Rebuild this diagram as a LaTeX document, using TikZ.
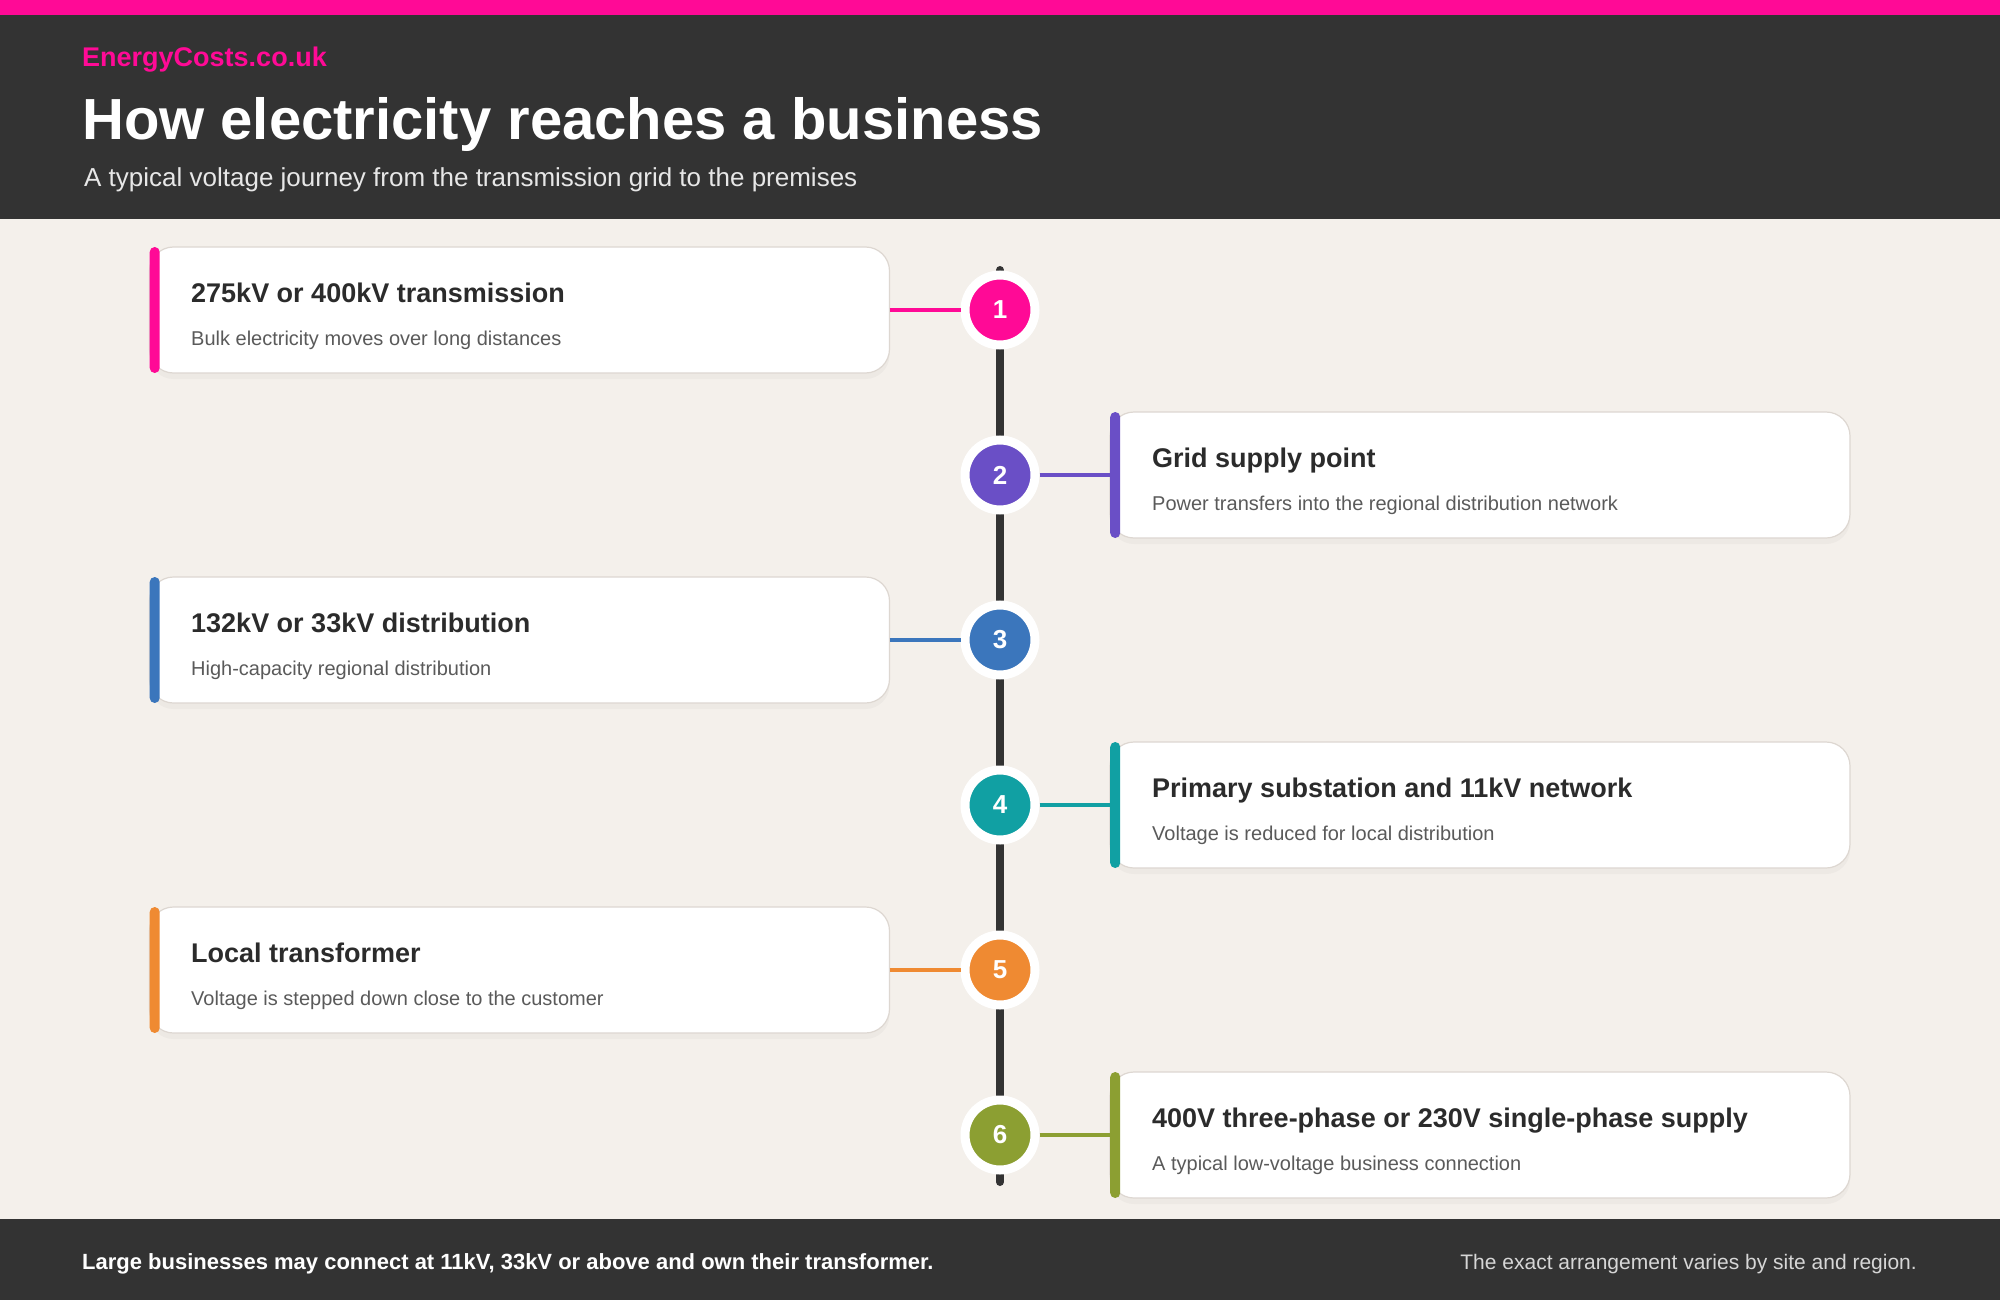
\documentclass[tikz,border=0pt]{standalone}
\usepackage{fontspec}
\setmainfont{Liberation Sans}
\usetikzlibrary{shadows}
\definecolor{pinkc}{HTML}{FF0A96}
\definecolor{purplec}{HTML}{6A4FC6}
\definecolor{bluec}{HTML}{3B76BC}
\definecolor{tealc}{HTML}{11A0A3}
\definecolor{orangec}{HTML}{EF8A32}
\definecolor{olivec}{HTML}{8C9F32}
\definecolor{darkc}{HTML}{333333}
\definecolor{bgc}{HTML}{F4F0EB}
\definecolor{cardline}{HTML}{DDD7D1}
\definecolor{titlec}{HTML}{2B2B2B}
\definecolor{descc}{HTML}{5A5A5A}
\begin{document}
\begin{tikzpicture}
			[x=1pt,y=-1pt,
			card/.style={rectangle,rounded corners=24pt,fill=white,draw=cardline,line width=1.2pt,minimum width=740pt,minimum height=126pt,inner sep=0pt,outer sep=0pt,drop shadow={opacity=0.06,shadow xshift=0pt,shadow yshift=-6pt}},
			accent/.style={rectangle,rounded corners=5pt,minimum width=10pt,minimum height=126pt,inner sep=0pt,anchor=west},
			stepdot/.style={circle,draw=white,line width=9pt,minimum size=70pt,inner sep=0pt,text=white,font=\fontsize{26}{26}\selectfont\bfseries},
			ttl/.style={anchor=base west,inner sep=0pt,text=titlec,font=\fontsize{27}{27}\selectfont\bfseries},
			desc/.style={anchor=base west,inner sep=0pt,text=descc,font=\fontsize{20}{20}\selectfont},
			link/.style={line width=4pt},
			spine/.style={line width=8pt,darkc,line cap=round}]
			\useasboundingbox (0,0) rectangle (2000,1300);
			\fill[bgc](0,0) rectangle (2000,1300);
			\fill[darkc](0,0) rectangle (2000,219);
			\fill[pinkc](0,0) rectangle (2000,15);
			\fill[darkc](0,1219) rectangle (2000,1300);
			\node[anchor=base west,inner sep=0pt,text=pinkc,font=\fontsize{27}{27}\selectfont\bfseries,name=brand] at (82,67) {EnergyCosts.co.uk};
			\node[anchor=base west,inner sep=0pt,text=white,font=\fontsize{58}{58}\selectfont\bfseries,name=title] at (82,140) {How electricity reaches a business};
			\node[anchor=base west,inner sep=0pt,text=white!88!darkc,font=\fontsize{26}{26}\selectfont,name=tagline] at (84,187) {A typical voltage journey from the transmission grid to the premises};
			\node[anchor=base west,inner sep=0pt,text=white,font=\fontsize{22}{22}\selectfont\bfseries,name=footl] at (82,1269) {Large businesses may connect at 11kV, 33kV or above and own their transformer.};
			\node[anchor=base east,inner sep=0pt,text=white!80!darkc,font=\fontsize{21}{21}\selectfont,name=footr] at (1917,1269) {The exact arrangement varies by site and region.};
			\node[card,name=c1] at (519.5,310) {};
			\node[card,name=c2] at (1480,475) {};
			\node[card,name=c3] at (519.5,640) {};
			\node[card,name=c4] at (1480,805) {};
			\node[card,name=c5] at (519.5,970) {};
			\node[card,name=c6] at (1480,1135) {};
			\node[accent,fill=pinkc,name=a1] at (c1.west) {};
			\node[accent,fill=purplec,name=a2] at (c2.west) {};
			\node[accent,fill=bluec,name=a3] at (c3.west) {};
			\node[accent,fill=tealc,name=a4] at (c4.west) {};
			\node[accent,fill=orangec,name=a5] at (c5.west) {};
			\node[accent,fill=olivec,name=a6] at (c6.west) {};
			\node[ttl,name=t1] at (191,302) {275kV or 400kV transmission};
			\node[desc,name=d1] at (191,345) {Bulk electricity moves over long distances};
			\node[ttl,name=t2] at (1152,467) {Grid supply point};
			\node[desc,name=d2] at (1152,510) {Power transfers into the regional distribution network};
			\node[ttl,name=t3] at (191,632) {132kV or 33kV distribution};
			\node[desc,name=d3] at (191,675) {High-capacity regional distribution};
			\node[ttl,name=t4] at (1152,797) {Primary substation and 11kV network};
			\node[desc,name=d4] at (1152,840) {Voltage is reduced for local distribution};
			\node[ttl,name=t5] at (191,962) {Local transformer};
			\node[desc,name=d5] at (191,1005) {Voltage is stepped down close to the customer};
			\node[ttl,name=t6] at (1152,1127) {400V three-phase or 230V single-phase supply};
			\node[desc,name=d6] at (1152,1170) {A typical low-voltage business connection};
			\coordinate (top) at (1000,270);
			\coordinate (bot) at (1000,1182);
			\draw[spine](top)--(bot);
			\node[stepdot,fill=pinkc,name=n1] at (1000,310) {1};
			\node[stepdot,fill=purplec,name=n2] at (1000,475) {2};
			\node[stepdot,fill=bluec,name=n3] at (1000,640) {3};
			\node[stepdot,fill=tealc,name=n4] at (1000,805) {4};
			\node[stepdot,fill=orangec,name=n5] at (1000,970) {5};
			\node[stepdot,fill=olivec,name=n6] at (1000,1135) {6};
			\draw[link,pinkc](c1.east)--(n1);
			\draw[link,purplec](n2)--(a2.west);
			\draw[link,bluec](c3.east)--(n3);
			\draw[link,tealc](n4)--(a4.west);
			\draw[link,orangec](c5.east)--(n5);
			\draw[link,olivec](n6)--(a6.west);
		\end{tikzpicture}
\end{document}
